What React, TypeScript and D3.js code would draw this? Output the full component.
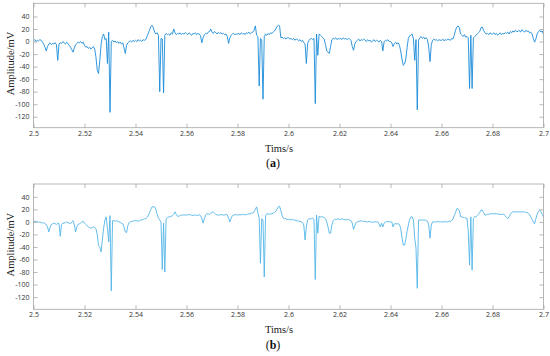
import { useRef, useEffect } from 'react'
import * as d3 from 'd3'

// sampling of both traces
const T_START = 2.5
const DT = 0.0005

const X_TICKS = [2.5, 2.52, 2.54, 2.56, 2.58, 2.6, 2.62, 2.64, 2.66, 2.68, 2.7]
const Y_TICKS = [-120, -100, -80, -60, -40, -20, 0, 20, 40]

// (a) raw signal, mV, one row = 10 ms
const RAW = [
  1, 3, 0, 2, 1, 3, 2, -1, -4, -9, -15, -8, -4, -2, -5, -3, -4, -2, -5, -30,
  -4, -2, -3, 0, -2, -4, -1, -3, -6, -9, -13, -17, -10, -5, -3, -1, -2, 0, -3, -1,
  -6, -9, -8, -11, -9, -12, -10, -8, -12, -25, -46, -51, -30, -5, 8, 12, 3, 5, -35, 15,
  -113, 0, 2, -1, 1, -2, 0, -3, -1, -4, -2, -10, -19, -6, -2, 0, 1, -1, 2, 0,
  2, 0, 3, 1, 2, 0, 3, 2, 3, 8, 13, 18, 24, 26, 22, 15, 12, 14, 10, -80,
  5, 4, -82, 10, 13, 11, 12, 10, 14, 12, 20, 14, 11, 13, 12, 14, 11, 13, 12, 14,
  13, 11, 14, 12, 10, 13, 12, 14, 11, 13, 12, 9, -2, 6, 11, 13, 12, 15, 16, 20,
  15, 13, 16, 14, 12, 15, 13, 14, 12, 13, 11, 12, 8, -3, 6, 10, 12, 13, 11, 12,
  12, 13, 11, 14, 12, 13, 11, 14, 13, 15, 12, 14, 15, 18, 25, 10, 8, -71, 5, 2,
  -92, 8, 12, 10, 13, 11, 14, 13, 15, 17, 20, 24, 26, 25, 6, 7, 5, 6, 4, 6,
  6, 4, 5, 3, 5, 2, 4, 3, 1, 3, 0, 2, -2, -4, -35, -3, 2, 4, 5, 3,
  5, -99, 12, -22, 12, 10, 8, 6, 4, -5, -15, -17, -19, -8, 3, 5, 4, 6, 3, 5,
  4, 5, 3, 6, 4, 5, 3, 5, 4, 2, -8, -14, -4, 0, 2, 4, 1, 3, 2, 4,
  2, 0, 3, 1, 2, -1, 1, 3, 0, 2, 1, -1, 2, 0, -15, 0, 2, 1, 3, 0,
  0, -2, -8, -3, -1, -4, -2, -6, -15, -28, -38, -36, -28, -10, 5, 9, 10, 12, 4, -30,
  3, -109, 2, 6, 8, 5, 7, 4, 6, 3, -10, -32, -5, 2, 4, 2, 3, 1, 3, 2,
  2, 4, 1, 3, 2, 4, 3, 2, 5, 4, 10, 18, 23, 25, 22, 12, 10, 8, 11, 7,
  8, 6, -75, 10, -75, 6, 8, 10, 12, 14, 16, 22, 23, 18, 14, 12, 13, 11, 14, 12,
  12, 14, 11, 13, 10, 12, 14, 11, 13, 12, 14, 13, 15, 12, 16, 14, 17, 15, 18, 16,
  16, 18, 15, 19, 17, 15, 18, 16, 17, 14, 15, 12, 5, -1, 4, 12, 16, 18, 15, 17,
  12,
]

// (b) denoised signal, mV
const FILTERED = [
  0, 1, 0, 1, -1, 0, -1, -2, -1, -3, -4, -8, -16, -9, -4, -3, -2, -3, -4, -2,
  -3, -23, -4, -2, -2, -1, 0, -1, -2, -3, 0, 2, -4, -16, -8, -4, -3, -2, 0, 1,
  -2, -4, -6, -8, -9, -10, -9, -8, -9, -11, -20, -38, -40, -48, -29, -10, 3, 8, -10, -32,
  10, -110, 2, 2, 1, 2, 1, 0, -1, -2, -3, -8, -16, -17, -6, -1, 0, 1, 1, 2,
  2, 2, 1, 2, 3, 3, 4, 5, 5, 7, 10, 15, 20, 24, 24, 24, 20, 12, 6, 3,
  0, -76, -2, -80, 5, 7, 8, 8, 9, 10, 12, 16, 12, 9, 9, 10, 11, 11, 11, 11,
  11, 11, 12, 11, 11, 10, 11, 11, 10, 11, 11, 10, 6, -2, 5, 11, 13, 13, 12, 14,
  15, 16, 14, 12, 11, 11, 11, 12, 11, 11, 11, 12, 11, 6, 0, 6, 10, 11, 11, 12,
  11, 11, 12, 11, 12, 12, 11, 12, 12, 13, 13, 14, 14, 16, 20, 24, 14, 6, -66, 5,
  3, -88, 10, 13, 13, 12, 13, 13, 14, 15, 17, 20, 24, 25, 18, 10, 6, 5, 5, 4,
  4, 4, 3, 4, 3, 3, 2, 2, 1, 1, 0, -1, -5, -29, -8, 3, 5, 5, 5, 6,
  4, -92, 11, -18, 9, 8, 8, 8, 7, 5, 0, -8, -18, -18, -5, 2, 4, 4, 4, 5,
  4, 4, 5, 4, 4, 3, 4, 4, 3, 2, -2, -12, -6, -1, 0, 1, 1, 2, 1, 1,
  1, 0, 0, 1, 0, 0, -1, 0, 0, 0, 0, -3, -8, -2, -8, -2, 0, 0, 1, 0,
  0, 0, -8, -3, -3, -3, -3, -4, -10, -25, -37, -37, -28, -15, -5, 4, 8, 8, 3, -26,
  -42, -106, 3, 3, 3, 3, 3, 3, 2, 1, -5, -26, -5, 0, 0, 0, 0, 1, 0, 0,
  0, 0, 0, 1, 0, 0, 1, 1, 2, 5, 10, 15, 21, 21, 18, 8, 8, 7, 7, 6,
  6, -15, -69, 8, -77, 6, 8, 8, 10, 12, 15, 19, 19, 15, 11, 11, 12, 12, 13, 13,
  13, 13, 13, 13, 13, 12, 12, 12, 12, 12, 10, 7, 5, 8, 12, 15, 16, 16, 16, 16,
  16, 16, 16, 16, 16, 16, 15, 15, 14, 12, 8, 4, 0, -3, 5, 12, 17, 19, 16, 12,
  8,
]

const PANELS = [
  { values: RAW, top: 3.3, bottom: 127.7, yDomain: [-137.5, 61], color: '#1b8bd8', tag: 'a' },
  { values: FILTERED, top: 184, bottom: 309.3, yDomain: [-139.5, 60.5], color: '#52b6e8', tag: 'b' },
]

const W = 550
const H = 356
const LEFT = 33.5
const RIGHT = 543.5

export default function App() {
  const svgRef = useRef<SVGSVGElement>(null)

  useEffect(() => {
    if (!svgRef.current) return
    const svg = d3.select(svgRef.current)
    svg.selectAll('*').remove()

    const x = d3.scaleLinear().domain([2.5, 2.7]).range([LEFT, RIGHT])

    PANELS.forEach(p => {
      const y = d3.scaleLinear().domain(p.yDomain).range([p.bottom, p.top])
      const g = svg.append('g')

      const line = d3.line<number>()
        .x((_, i) => x(T_START + i * DT))
        .y(d => y(d))

      g.append('path')
        .datum(p.values)
        .attr('d', line)
        .attr('fill', 'none')
        .attr('stroke', p.color)
        .attr('stroke-width', 0.9)
        .attr('stroke-linejoin', 'round')

      // box
      g.append('rect')
        .attr('x', LEFT).attr('y', p.top)
        .attr('width', RIGHT - LEFT).attr('height', p.bottom - p.top)
        .attr('fill', 'none').attr('stroke', '#a6a6a6').attr('stroke-width', 0.8)

      const fmt = (d: d3.NumberValue) => String(Number(d))

      const xb = g.append('g').attr('transform', `translate(0,${p.bottom})`)
        .call(d3.axisBottom(x).tickValues(X_TICKS).tickSizeInner(-4).tickSizeOuter(0).tickPadding(3).tickFormat(fmt))
      const xt = g.append('g').attr('transform', `translate(0,${p.top})`)
        .call(d3.axisTop(x).tickValues(X_TICKS).tickSizeInner(-4).tickSizeOuter(0).tickFormat(() => ''))
      const yl = g.append('g').attr('transform', `translate(${LEFT},0)`)
        .call(d3.axisLeft(y).tickValues(Y_TICKS).tickSizeInner(-4).tickSizeOuter(0).tickPadding(4).tickFormat(fmt))
      const yr = g.append('g').attr('transform', `translate(${RIGHT},0)`)
        .call(d3.axisRight(y).tickValues(Y_TICKS).tickSizeInner(-4).tickSizeOuter(0).tickFormat(() => ''))

      ;[xb, xt, yl, yr].forEach(a => {
        a.select('.domain').remove()
        a.selectAll('line').attr('stroke', '#a6a6a6').attr('stroke-width', 0.8)
        a.selectAll('text')
          .attr('fill', '#333')
          .attr('font-size', '7px')
          .attr('font-family', '"Open Sans", sans-serif')
      })

      const midX = 279
      g.append('text')
        .attr('x', midX).attr('y', p.bottom + 23.8)
        .attr('text-anchor', 'middle')
        .attr('font-family', '"Liberation Serif", serif')
        .attr('font-size', '10.5px')
        .attr('fill', '#222')
        .text('Tims/s')

      g.append('text')
        .attr('x', 273).attr('y', p.bottom + 39.5)
        .attr('text-anchor', 'middle')
        .attr('font-family', '"Liberation Serif", serif')
        .attr('font-size', '12px')
        .attr('fill', '#111')
        .html(`(<tspan font-weight="bold">${p.tag}</tspan>)`)

      const midY = (p.top + p.bottom) / 2 - 2
      g.append('text')
        .attr('transform', `translate(13.5,${midY}) rotate(-90)`)
        .attr('text-anchor', 'middle')
        .attr('font-family', '"Liberation Serif", serif')
        .attr('font-size', '10.5px')
        .attr('fill', '#222')
        .text('Amplitude/mV')
    })
  }, [])

  return (
    <svg
      ref={svgRef}
      width={W}
      height={H}
      style={{ position: 'absolute', left: 0, top: 0, background: '#fff', display: 'block' }}
    />
  )
}
